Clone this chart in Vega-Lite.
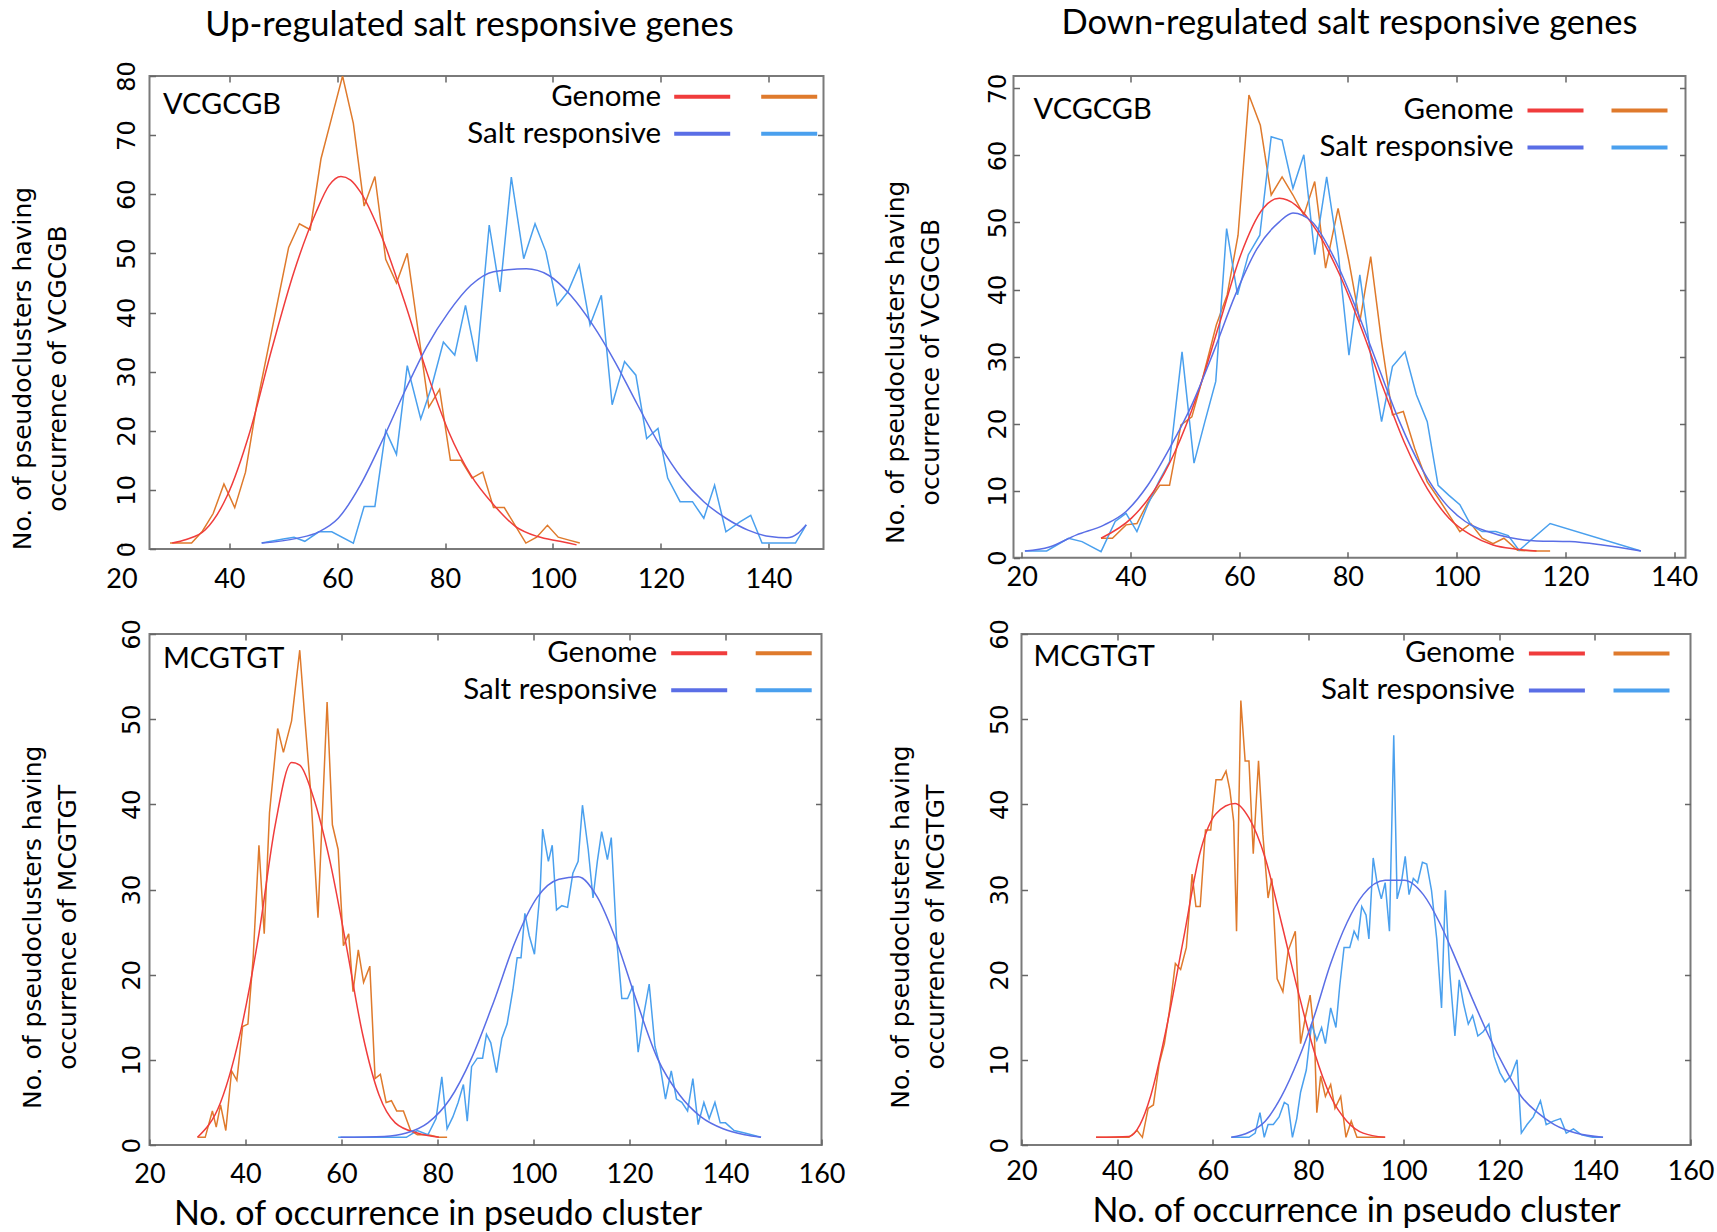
{
"$schema": "https://vega.github.io/schema/vega-lite/v6.json",
"background": "white",
"padding": {"left": 8.5, "top": 5, "right": 5, "bottom": 2},
"config": {
  "font": "Lato",
  "view": {"stroke": "#7a7a7a", "strokeWidth": 2},
  "axis": {"domain": false, "grid": false, "ticks": true, "tickSize": -6, "tickColor": "#666666", "tickWidth": 1.5, "labelColor": "black", "titleColor": "black", "titleFontWeight": "normal", "labelFlush": false, "labelOverlap": false},
  "axisX": {"labelFont": "Lato", "labelFontSize": 27, "titleFont": "Lato", "titleFontSize": 34},
  "axisY": {"labelFont": "DejaVu Sans", "labelFontSize": 24, "labelAngle": 270, "labelAlign": "center", "labelBaseline": "alphabetic", "titleFont": "DejaVu Sans", "titleFontSize": 25, "titleLineHeight": 35, "titleBaseline": "alphabetic", "titleAngle": 270},
  "legend": {"orient": "none", "title": null, "direction": "vertical", "symbolType": "M-2,0H2", "symbolSize": 784, "symbolStrokeWidth": 4, "labelFont": "Lato", "labelFontSize": 29.5, "labelColor": "black", "labelLimit": 400, "rowPadding": 6, "padding": 0},
  "title": {"font": "Lato", "fontSize": 34.5, "fontWeight": "normal", "color": "black", "anchor": "middle"}
},
"datasets": {
"up_vcgcgb": [
{"kind":"label","motif":"VCGCGB"},
{"series":"Genome","kind":"raw","x":29,"y":1},{"series":"Genome","kind":"raw","x":31,"y":1},{"series":"Genome","kind":"raw","x":33,"y":1},{"series":"Genome","kind":"raw","x":35,"y":3},{"series":"Genome","kind":"raw","x":37,"y":6},{"series":"Genome","kind":"raw","x":39,"y":11},{"series":"Genome","kind":"raw","x":41,"y":7},{"series":"Genome","kind":"raw","x":43,"y":13},{"series":"Genome","kind":"raw","x":45,"y":24},{"series":"Genome","kind":"raw","x":47,"y":33},{"series":"Genome","kind":"raw","x":49,"y":42},{"series":"Genome","kind":"raw","x":51,"y":51},{"series":"Genome","kind":"raw","x":53,"y":55},{"series":"Genome","kind":"raw","x":55,"y":54},{"series":"Genome","kind":"raw","x":57,"y":66},{"series":"Genome","kind":"raw","x":59,"y":73},{"series":"Genome","kind":"raw","x":61,"y":80},{"series":"Genome","kind":"raw","x":63,"y":72},{"series":"Genome","kind":"raw","x":65,"y":58},{"series":"Genome","kind":"raw","x":67,"y":63},{"series":"Genome","kind":"raw","x":69,"y":49},{"series":"Genome","kind":"raw","x":71,"y":45},{"series":"Genome","kind":"raw","x":73,"y":50},{"series":"Genome","kind":"raw","x":75,"y":37},{"series":"Genome","kind":"raw","x":77,"y":24},{"series":"Genome","kind":"raw","x":79,"y":27},{"series":"Genome","kind":"raw","x":81,"y":15},{"series":"Genome","kind":"raw","x":83,"y":15},{"series":"Genome","kind":"raw","x":85,"y":12},{"series":"Genome","kind":"raw","x":87,"y":13},{"series":"Genome","kind":"raw","x":89,"y":7},{"series":"Genome","kind":"raw","x":91,"y":7},{"series":"Genome","kind":"raw","x":93,"y":4},{"series":"Genome","kind":"raw","x":95,"y":1},{"series":"Genome","kind":"raw","x":97,"y":2},{"series":"Genome","kind":"raw","x":99,"y":4},{"series":"Genome","kind":"raw","x":101,"y":2},{"series":"Genome","kind":"raw","x":103,"y":1.5},{"series":"Genome","kind":"raw","x":105,"y":1},
{"series":"Genome","kind":"fit","x":29.4,"y":1},{"series":"Genome","kind":"fit","x":32,"y":1.6},{"series":"Genome","kind":"fit","x":35.5,"y":3.2},{"series":"Genome","kind":"fit","x":39.6,"y":9},{"series":"Genome","kind":"fit","x":43.8,"y":19.8},{"series":"Genome","kind":"fit","x":47.9,"y":33.9},{"series":"Genome","kind":"fit","x":52,"y":46.9},{"series":"Genome","kind":"fit","x":56.1,"y":57},{"series":"Genome","kind":"fit","x":58.5,"y":61.5},{"series":"Genome","kind":"fit","x":60.7,"y":63},{"series":"Genome","kind":"fit","x":62.5,"y":62.4},{"series":"Genome","kind":"fit","x":64.3,"y":60.4},{"series":"Genome","kind":"fit","x":68.4,"y":52.5},{"series":"Genome","kind":"fit","x":72.5,"y":41.8},{"series":"Genome","kind":"fit","x":76.6,"y":30},{"series":"Genome","kind":"fit","x":80.7,"y":19.8},{"series":"Genome","kind":"fit","x":84.8,"y":12.5},{"series":"Genome","kind":"fit","x":89,"y":7.5},{"series":"Genome","kind":"fit","x":93.1,"y":3.8},{"series":"Genome","kind":"fit","x":97.2,"y":2.1},{"series":"Genome","kind":"fit","x":101.3,"y":1.3},{"series":"Genome","kind":"fit","x":104.4,"y":0.7},
{"series":"Salt responsive","kind":"raw","x":46,"y":1},{"series":"Salt responsive","kind":"raw","x":50,"y":1.7},{"series":"Salt responsive","kind":"raw","x":52,"y":2},{"series":"Salt responsive","kind":"raw","x":54,"y":1.3},{"series":"Salt responsive","kind":"raw","x":56.6,"y":2.9},{"series":"Salt responsive","kind":"raw","x":59,"y":2.9},{"series":"Salt responsive","kind":"raw","x":63,"y":1},{"series":"Salt responsive","kind":"raw","x":65,"y":7.2},{"series":"Salt responsive","kind":"raw","x":67,"y":7.2},{"series":"Salt responsive","kind":"raw","x":69,"y":20},{"series":"Salt responsive","kind":"raw","x":71,"y":16},{"series":"Salt responsive","kind":"raw","x":73,"y":31},{"series":"Salt responsive","kind":"raw","x":75.5,"y":22},{"series":"Salt responsive","kind":"raw","x":77.5,"y":27.4},{"series":"Salt responsive","kind":"raw","x":79.7,"y":35},{"series":"Salt responsive","kind":"raw","x":81.8,"y":32.8},{"series":"Salt responsive","kind":"raw","x":83.8,"y":41.2},{"series":"Salt responsive","kind":"raw","x":85.9,"y":31.7},{"series":"Salt responsive","kind":"raw","x":88.2,"y":54.8},{"series":"Salt responsive","kind":"raw","x":90.2,"y":43.5},{"series":"Salt responsive","kind":"raw","x":92.3,"y":62.9},{"series":"Salt responsive","kind":"raw","x":94.6,"y":49.1},{"series":"Salt responsive","kind":"raw","x":96.7,"y":55},{"series":"Salt responsive","kind":"raw","x":98.7,"y":50.3},{"series":"Salt responsive","kind":"raw","x":100.8,"y":41.2},{"series":"Salt responsive","kind":"raw","x":102.8,"y":43.5},{"series":"Salt responsive","kind":"raw","x":104.9,"y":48},{"series":"Salt responsive","kind":"raw","x":106.9,"y":37.9},{"series":"Salt responsive","kind":"raw","x":109,"y":42.9},{"series":"Salt responsive","kind":"raw","x":111,"y":24.4},{"series":"Salt responsive","kind":"raw","x":113.3,"y":31.7},{"series":"Salt responsive","kind":"raw","x":115.4,"y":29.4},{"series":"Salt responsive","kind":"raw","x":117.4,"y":18.7},{"series":"Salt responsive","kind":"raw","x":119.5,"y":20.4},{"series":"Salt responsive","kind":"raw","x":121.3,"y":12},{"series":"Salt responsive","kind":"raw","x":123.6,"y":8},{"series":"Salt responsive","kind":"raw","x":125.9,"y":8},{"series":"Salt responsive","kind":"raw","x":128,"y":5.2},{"series":"Salt responsive","kind":"raw","x":130,"y":10.8},{"series":"Salt responsive","kind":"raw","x":132.1,"y":2.9},{"series":"Salt responsive","kind":"raw","x":134.7,"y":4.6},{"series":"Salt responsive","kind":"raw","x":136.7,"y":5.7},{"series":"Salt responsive","kind":"raw","x":138.8,"y":1},{"series":"Salt responsive","kind":"raw","x":145,"y":1},{"series":"Salt responsive","kind":"raw","x":147,"y":4.1},
{"series":"Salt responsive","kind":"fit","x":46,"y":1},{"series":"Salt responsive","kind":"fit","x":52.5,"y":1.8},{"series":"Salt responsive","kind":"fit","x":56.6,"y":2.9},{"series":"Salt responsive","kind":"fit","x":60.2,"y":5.2},{"series":"Salt responsive","kind":"fit","x":64.3,"y":10.8},{"series":"Salt responsive","kind":"fit","x":68.4,"y":18.4},{"series":"Salt responsive","kind":"fit","x":72.5,"y":26.6},{"series":"Salt responsive","kind":"fit","x":76.6,"y":34.2},{"series":"Salt responsive","kind":"fit","x":80.7,"y":40.1},{"series":"Salt responsive","kind":"fit","x":84.8,"y":44.6},{"series":"Salt responsive","kind":"fit","x":89,"y":46.9},{"series":"Salt responsive","kind":"fit","x":95.1,"y":47.4},{"series":"Salt responsive","kind":"fit","x":99.2,"y":46.3},{"series":"Salt responsive","kind":"fit","x":103.3,"y":42.9},{"series":"Salt responsive","kind":"fit","x":107.4,"y":37.9},{"series":"Salt responsive","kind":"fit","x":111.5,"y":31.7},{"series":"Salt responsive","kind":"fit","x":115.7,"y":24.4},{"series":"Salt responsive","kind":"fit","x":119.8,"y":17.6},{"series":"Salt responsive","kind":"fit","x":123.9,"y":12},{"series":"Salt responsive","kind":"fit","x":128,"y":8},{"series":"Salt responsive","kind":"fit","x":132.1,"y":5.2},{"series":"Salt responsive","kind":"fit","x":136.2,"y":3.2},{"series":"Salt responsive","kind":"fit","x":140.3,"y":2.1},{"series":"Salt responsive","kind":"fit","x":143.4,"y":1.9},{"series":"Salt responsive","kind":"fit","x":145.5,"y":2.7},{"series":"Salt responsive","kind":"fit","x":147,"y":4.1}
],
"down_vcgcgb": [
{"kind":"label","motif":"VCGCGB"},
{"series":"Genome","kind":"raw","x":34.6,"y":2.9},{"series":"Genome","kind":"raw","x":36.7,"y":2.9},{"series":"Genome","kind":"raw","x":39.2,"y":4.9},{"series":"Genome","kind":"raw","x":41.2,"y":5.1},{"series":"Genome","kind":"raw","x":43.2,"y":8.2},{"series":"Genome","kind":"raw","x":45.4,"y":10.8},{"series":"Genome","kind":"raw","x":47.2,"y":10.8},{"series":"Genome","kind":"raw","x":49.3,"y":19.8},{"series":"Genome","kind":"raw","x":51.3,"y":21},{"series":"Genome","kind":"raw","x":53.3,"y":26.8},{"series":"Genome","kind":"raw","x":55.8,"y":34.7},{"series":"Genome","kind":"raw","x":57.8,"y":39.2},{"series":"Genome","kind":"raw","x":59.8,"y":48.1},{"series":"Genome","kind":"raw","x":61.8,"y":69},{"series":"Genome","kind":"raw","x":63.9,"y":64.5},{"series":"Genome","kind":"raw","x":65.9,"y":54.1},{"series":"Genome","kind":"raw","x":67.9,"y":56.8},{"series":"Genome","kind":"raw","x":69.9,"y":54.1},{"series":"Genome","kind":"raw","x":71.9,"y":51.1},{"series":"Genome","kind":"raw","x":73.9,"y":56.1},{"series":"Genome","kind":"raw","x":75.9,"y":43.2},{"series":"Genome","kind":"raw","x":78.2,"y":52.1},{"series":"Genome","kind":"raw","x":80.2,"y":44.2},{"series":"Genome","kind":"raw","x":82.2,"y":35.2},{"series":"Genome","kind":"raw","x":84.2,"y":44.9},{"series":"Genome","kind":"raw","x":86.2,"y":32.2},{"series":"Genome","kind":"raw","x":88.2,"y":21.3},{"series":"Genome","kind":"raw","x":90.2,"y":21.8},{"series":"Genome","kind":"raw","x":92.3,"y":16.3},{"series":"Genome","kind":"raw","x":94.6,"y":11.3},{"series":"Genome","kind":"raw","x":96.6,"y":8.9},{"series":"Genome","kind":"raw","x":98.6,"y":6.4},{"series":"Genome","kind":"raw","x":100.6,"y":3.9},{"series":"Genome","kind":"raw","x":102.6,"y":5.1},{"series":"Genome","kind":"raw","x":104.7,"y":2.9},{"series":"Genome","kind":"raw","x":106.7,"y":2.1},{"series":"Genome","kind":"raw","x":108.7,"y":2.9},{"series":"Genome","kind":"raw","x":111.2,"y":1.1},{"series":"Genome","kind":"raw","x":114.7,"y":1},{"series":"Genome","kind":"raw","x":117.2,"y":1},
{"series":"Genome","kind":"fit","x":34.6,"y":2.9},{"series":"Genome","kind":"fit","x":40.2,"y":5.9},{"series":"Genome","kind":"fit","x":44.2,"y":9.8},{"series":"Genome","kind":"fit","x":48.2,"y":15.8},{"series":"Genome","kind":"fit","x":52.3,"y":24.3},{"series":"Genome","kind":"fit","x":56.3,"y":34.7},{"series":"Genome","kind":"fit","x":60.3,"y":45.2},{"series":"Genome","kind":"fit","x":64.4,"y":52.1},{"series":"Genome","kind":"fit","x":67.4,"y":53.6},{"series":"Genome","kind":"fit","x":70.4,"y":52.6},{"series":"Genome","kind":"fit","x":74.4,"y":48.6},{"series":"Genome","kind":"fit","x":78.5,"y":42.2},{"series":"Genome","kind":"fit","x":82.5,"y":34.2},{"series":"Genome","kind":"fit","x":86.5,"y":25.3},{"series":"Genome","kind":"fit","x":90.6,"y":16.8},{"series":"Genome","kind":"fit","x":94.6,"y":10.3},{"series":"Genome","kind":"fit","x":98.6,"y":5.9},{"series":"Genome","kind":"fit","x":102.6,"y":3.4},{"series":"Genome","kind":"fit","x":106.7,"y":1.9},{"series":"Genome","kind":"fit","x":110.7,"y":1.3},{"series":"Genome","kind":"fit","x":114.7,"y":1},
{"series":"Salt responsive","kind":"raw","x":20.6,"y":1},{"series":"Salt responsive","kind":"raw","x":24.6,"y":1},{"series":"Salt responsive","kind":"raw","x":28.6,"y":2.9},{"series":"Salt responsive","kind":"raw","x":31.1,"y":2.4},{"series":"Salt responsive","kind":"raw","x":34.6,"y":0.9},{"series":"Salt responsive","kind":"raw","x":37.2,"y":5.4},{"series":"Salt responsive","kind":"raw","x":39.2,"y":6.6},{"series":"Salt responsive","kind":"raw","x":41.2,"y":3.9},{"series":"Salt responsive","kind":"raw","x":43.2,"y":7.9},{"series":"Salt responsive","kind":"raw","x":45.2,"y":11.3},{"series":"Salt responsive","kind":"raw","x":47.2,"y":14.3},{"series":"Salt responsive","kind":"raw","x":49.5,"y":30.7},{"series":"Salt responsive","kind":"raw","x":51.7,"y":14.1},{"series":"Salt responsive","kind":"raw","x":53.7,"y":20.3},{"series":"Salt responsive","kind":"raw","x":55.7,"y":26.3},{"series":"Salt responsive","kind":"raw","x":57.7,"y":49.1},{"series":"Salt responsive","kind":"raw","x":59.7,"y":39.2},{"series":"Salt responsive","kind":"raw","x":61.7,"y":45.2},{"series":"Salt responsive","kind":"raw","x":63.8,"y":48.1},{"series":"Salt responsive","kind":"raw","x":65.9,"y":62.8},{"series":"Salt responsive","kind":"raw","x":67.9,"y":62.3},{"series":"Salt responsive","kind":"raw","x":69.9,"y":55.1},{"series":"Salt responsive","kind":"raw","x":71.9,"y":60.1},{"series":"Salt responsive","kind":"raw","x":73.9,"y":45.2},{"series":"Salt responsive","kind":"raw","x":76.1,"y":56.8},{"series":"Salt responsive","kind":"raw","x":78.2,"y":45.6},{"series":"Salt responsive","kind":"raw","x":80.2,"y":30.2},{"series":"Salt responsive","kind":"raw","x":82.2,"y":42.2},{"series":"Salt responsive","kind":"raw","x":84.2,"y":30.2},{"series":"Salt responsive","kind":"raw","x":86.2,"y":20.3},{"series":"Salt responsive","kind":"raw","x":88.2,"y":28.5},{"series":"Salt responsive","kind":"raw","x":90.5,"y":30.7},{"series":"Salt responsive","kind":"raw","x":92.6,"y":24.3},{"series":"Salt responsive","kind":"raw","x":94.6,"y":20.3},{"series":"Salt responsive","kind":"raw","x":96.6,"y":10.8},{"series":"Salt responsive","kind":"raw","x":98.6,"y":9.3},{"series":"Salt responsive","kind":"raw","x":100.6,"y":7.9},{"series":"Salt responsive","kind":"raw","x":102.6,"y":4.9},{"series":"Salt responsive","kind":"raw","x":104.7,"y":3.9},{"series":"Salt responsive","kind":"raw","x":107.2,"y":3.9},{"series":"Salt responsive","kind":"raw","x":109.5,"y":3.3},{"series":"Salt responsive","kind":"raw","x":111.5,"y":1.1},{"series":"Salt responsive","kind":"raw","x":117.2,"y":5.1},{"series":"Salt responsive","kind":"raw","x":133.9,"y":1},
{"series":"Salt responsive","kind":"fit","x":20.6,"y":1},{"series":"Salt responsive","kind":"fit","x":25.1,"y":1.6},{"series":"Salt responsive","kind":"fit","x":30.1,"y":3.4},{"series":"Salt responsive","kind":"fit","x":35.2,"y":4.9},{"series":"Salt responsive","kind":"fit","x":39.2,"y":6.9},{"series":"Salt responsive","kind":"fit","x":43.2,"y":10.8},{"series":"Salt responsive","kind":"fit","x":47.2,"y":16.3},{"series":"Salt responsive","kind":"fit","x":51.3,"y":22.8},{"series":"Salt responsive","kind":"fit","x":55.3,"y":30.7},{"series":"Salt responsive","kind":"fit","x":59.3,"y":39.2},{"series":"Salt responsive","kind":"fit","x":63.3,"y":46.1},{"series":"Salt responsive","kind":"fit","x":67.4,"y":50.1},{"series":"Salt responsive","kind":"fit","x":69.9,"y":51.4},{"series":"Salt responsive","kind":"fit","x":73.4,"y":50.1},{"series":"Salt responsive","kind":"fit","x":77.5,"y":44.7},{"series":"Salt responsive","kind":"fit","x":81.5,"y":37.2},{"series":"Salt responsive","kind":"fit","x":85.5,"y":28.7},{"series":"Salt responsive","kind":"fit","x":89.5,"y":20.3},{"series":"Salt responsive","kind":"fit","x":93.6,"y":13.3},{"series":"Salt responsive","kind":"fit","x":97.6,"y":8.4},{"series":"Salt responsive","kind":"fit","x":101.6,"y":5.4},{"series":"Salt responsive","kind":"fit","x":105.7,"y":3.9},{"series":"Salt responsive","kind":"fit","x":109.7,"y":3},{"series":"Salt responsive","kind":"fit","x":114.7,"y":2.5},{"series":"Salt responsive","kind":"fit","x":120.8,"y":2.4},{"series":"Salt responsive","kind":"fit","x":126.8,"y":1.9},{"series":"Salt responsive","kind":"fit","x":133.9,"y":1}
],
"up_mcgtgt": [
{"kind":"label","motif":"MCGTGT"},
{"series":"Genome","kind":"raw","x":30,"y":0.9},{"series":"Genome","kind":"raw","x":31.6,"y":0.9},{"series":"Genome","kind":"raw","x":33.1,"y":4},{"series":"Genome","kind":"raw","x":33.9,"y":2.1},{"series":"Genome","kind":"raw","x":34.8,"y":4.7},{"series":"Genome","kind":"raw","x":35.9,"y":1.7},{"series":"Genome","kind":"raw","x":37.1,"y":8.7},{"series":"Genome","kind":"raw","x":38.2,"y":7.6},{"series":"Genome","kind":"raw","x":39.4,"y":13.9},{"series":"Genome","kind":"raw","x":40.5,"y":14.2},{"series":"Genome","kind":"raw","x":41.6,"y":22},{"series":"Genome","kind":"raw","x":42.8,"y":35.2},{"series":"Genome","kind":"raw","x":43.9,"y":24.8},{"series":"Genome","kind":"raw","x":45,"y":39},{"series":"Genome","kind":"raw","x":46.7,"y":48.9},{"series":"Genome","kind":"raw","x":47.9,"y":46.1},{"series":"Genome","kind":"raw","x":49.6,"y":49.8},{"series":"Genome","kind":"raw","x":51.3,"y":58.1},{"series":"Genome","kind":"raw","x":52.4,"y":49.8},{"series":"Genome","kind":"raw","x":53.6,"y":41.3},{"series":"Genome","kind":"raw","x":55.1,"y":26.7},{"series":"Genome","kind":"raw","x":57,"y":52},{"series":"Genome","kind":"raw","x":58.1,"y":37.6},{"series":"Genome","kind":"raw","x":59.3,"y":34.7},{"series":"Genome","kind":"raw","x":60.4,"y":23.4},{"series":"Genome","kind":"raw","x":61.5,"y":24.8},{"series":"Genome","kind":"raw","x":62.4,"y":18},{"series":"Genome","kind":"raw","x":63.5,"y":22.9},{"series":"Genome","kind":"raw","x":64.6,"y":19.1},{"series":"Genome","kind":"raw","x":65.9,"y":21},{"series":"Genome","kind":"raw","x":67,"y":7.8},{"series":"Genome","kind":"raw","x":68.1,"y":8.3},{"series":"Genome","kind":"raw","x":69.3,"y":5},{"series":"Genome","kind":"raw","x":70.4,"y":5.2},{"series":"Genome","kind":"raw","x":71.5,"y":4},{"series":"Genome","kind":"raw","x":72.9,"y":4},{"series":"Genome","kind":"raw","x":74.4,"y":1.7},{"series":"Genome","kind":"raw","x":75.8,"y":1.2},{"series":"Genome","kind":"raw","x":78,"y":1.2},{"series":"Genome","kind":"raw","x":80.3,"y":0.9},{"series":"Genome","kind":"raw","x":82,"y":0.9},
{"series":"Genome","kind":"fit","x":30,"y":0.9},{"series":"Genome","kind":"fit","x":34.8,"y":5},{"series":"Genome","kind":"fit","x":39.4,"y":14.4},{"series":"Genome","kind":"fit","x":42.8,"y":24.8},{"series":"Genome","kind":"fit","x":46.2,"y":37.6},{"series":"Genome","kind":"fit","x":49.6,"y":44.9},{"series":"Genome","kind":"fit","x":51.3,"y":44.6},{"series":"Genome","kind":"fit","x":54.1,"y":40.9},{"series":"Genome","kind":"fit","x":57.6,"y":33.3},{"series":"Genome","kind":"fit","x":61,"y":23.4},{"series":"Genome","kind":"fit","x":64.4,"y":13},{"series":"Genome","kind":"fit","x":67.8,"y":5.9},{"series":"Genome","kind":"fit","x":71.2,"y":2.6},{"series":"Genome","kind":"fit","x":75.8,"y":1.4},{"series":"Genome","kind":"fit","x":80.3,"y":0.9},
{"series":"Salt responsive","kind":"raw","x":59.3,"y":0.9},{"series":"Salt responsive","kind":"raw","x":73.5,"y":0.9},{"series":"Salt responsive","kind":"raw","x":75.8,"y":1.7},{"series":"Salt responsive","kind":"raw","x":78,"y":1.2},{"series":"Salt responsive","kind":"raw","x":79.7,"y":3.1},{"series":"Salt responsive","kind":"raw","x":80.9,"y":8},{"series":"Salt responsive","kind":"raw","x":82,"y":1.9},{"series":"Salt responsive","kind":"raw","x":83.2,"y":3.3},{"series":"Salt responsive","kind":"raw","x":84.3,"y":5},{"series":"Salt responsive","kind":"raw","x":85.4,"y":7.1},{"series":"Salt responsive","kind":"raw","x":86.2,"y":2.8},{"series":"Salt responsive","kind":"raw","x":87.1,"y":9.2},{"series":"Salt responsive","kind":"raw","x":88.3,"y":10.2},{"series":"Salt responsive","kind":"raw","x":89.4,"y":10.2},{"series":"Salt responsive","kind":"raw","x":90.2,"y":13},{"series":"Salt responsive","kind":"raw","x":91.1,"y":12},{"series":"Salt responsive","kind":"raw","x":92.3,"y":8.5},{"series":"Salt responsive","kind":"raw","x":93.4,"y":12.5},{"series":"Salt responsive","kind":"raw","x":94.5,"y":14.2},{"series":"Salt responsive","kind":"raw","x":95.7,"y":18.2},{"series":"Salt responsive","kind":"raw","x":96.6,"y":22},{"series":"Salt responsive","kind":"raw","x":97.4,"y":22},{"series":"Salt responsive","kind":"raw","x":98.2,"y":27.2},{"series":"Salt responsive","kind":"raw","x":99.1,"y":24.6},{"series":"Salt responsive","kind":"raw","x":100.2,"y":22.4},{"series":"Salt responsive","kind":"raw","x":101.4,"y":30},{"series":"Salt responsive","kind":"raw","x":101.9,"y":37.1},{"series":"Salt responsive","kind":"raw","x":103.1,"y":33.3},{"series":"Salt responsive","kind":"raw","x":103.9,"y":35.2},{"series":"Salt responsive","kind":"raw","x":104.8,"y":27.6},{"series":"Salt responsive","kind":"raw","x":105.9,"y":28.1},{"series":"Salt responsive","kind":"raw","x":107.1,"y":27.9},{"series":"Salt responsive","kind":"raw","x":108.2,"y":31.9},{"series":"Salt responsive","kind":"raw","x":109.3,"y":33.3},{"series":"Salt responsive","kind":"raw","x":110.2,"y":39.9},{"series":"Salt responsive","kind":"raw","x":111.4,"y":34.7},{"series":"Salt responsive","kind":"raw","x":112.4,"y":29},{"series":"Salt responsive","kind":"raw","x":113.3,"y":33.3},{"series":"Salt responsive","kind":"raw","x":114.2,"y":36.8},{"series":"Salt responsive","kind":"raw","x":115.4,"y":33.5},{"series":"Salt responsive","kind":"raw","x":116.2,"y":36.1},{"series":"Salt responsive","kind":"raw","x":117.3,"y":24.3},{"series":"Salt responsive","kind":"raw","x":118.4,"y":17.2},{"series":"Salt responsive","kind":"raw","x":119.6,"y":17.2},{"series":"Salt responsive","kind":"raw","x":120.7,"y":18.7},{"series":"Salt responsive","kind":"raw","x":121.8,"y":10.9},{"series":"Salt responsive","kind":"raw","x":123,"y":15.4},{"series":"Salt responsive","kind":"raw","x":124.1,"y":18.9},{"series":"Salt responsive","kind":"raw","x":125.3,"y":11.6},{"series":"Salt responsive","kind":"raw","x":126.4,"y":9.2},{"series":"Salt responsive","kind":"raw","x":127.5,"y":5.4},{"series":"Salt responsive","kind":"raw","x":128.7,"y":8.7},{"series":"Salt responsive","kind":"raw","x":129.8,"y":5.4},{"series":"Salt responsive","kind":"raw","x":130.9,"y":5},{"series":"Salt responsive","kind":"raw","x":132.1,"y":4},{"series":"Salt responsive","kind":"raw","x":133.2,"y":7.8},{"series":"Salt responsive","kind":"raw","x":134.3,"y":2.4},{"series":"Salt responsive","kind":"raw","x":135.5,"y":5},{"series":"Salt responsive","kind":"raw","x":136.6,"y":3.1},{"series":"Salt responsive","kind":"raw","x":137.8,"y":5},{"series":"Salt responsive","kind":"raw","x":138.9,"y":2.6},{"series":"Salt responsive","kind":"raw","x":140,"y":2.6},{"series":"Salt responsive","kind":"raw","x":141.8,"y":1.7},{"series":"Salt responsive","kind":"raw","x":144,"y":1.4},{"series":"Salt responsive","kind":"raw","x":147.4,"y":0.9},
{"series":"Salt responsive","kind":"fit","x":59.8,"y":0.9},{"series":"Salt responsive","kind":"fit","x":68.9,"y":1},{"series":"Salt responsive","kind":"fit","x":73.5,"y":1.4},{"series":"Salt responsive","kind":"fit","x":78,"y":2.6},{"series":"Salt responsive","kind":"fit","x":82.6,"y":5.4},{"series":"Salt responsive","kind":"fit","x":87.1,"y":10.2},{"series":"Salt responsive","kind":"fit","x":91.7,"y":16.8},{"series":"Salt responsive","kind":"fit","x":96.2,"y":23.9},{"series":"Salt responsive","kind":"fit","x":100.8,"y":29.1},{"series":"Salt responsive","kind":"fit","x":105.3,"y":31.2},{"series":"Salt responsive","kind":"fit","x":109.3,"y":31.5},{"series":"Salt responsive","kind":"fit","x":113.3,"y":29.1},{"series":"Salt responsive","kind":"fit","x":117.3,"y":23.9},{"series":"Salt responsive","kind":"fit","x":121.3,"y":17.2},{"series":"Salt responsive","kind":"fit","x":125.8,"y":10.2},{"series":"Salt responsive","kind":"fit","x":130.4,"y":5.9},{"series":"Salt responsive","kind":"fit","x":134.9,"y":3.3},{"series":"Salt responsive","kind":"fit","x":139.5,"y":1.9},{"series":"Salt responsive","kind":"fit","x":144,"y":1.2},{"series":"Salt responsive","kind":"fit","x":147.4,"y":0.9}
],
"down_mcgtgt": [
{"kind":"label","motif":"MCGTGT"},
{"series":"Genome","kind":"raw","x":35.6,"y":0.9},{"series":"Genome","kind":"raw","x":42.5,"y":0.9},{"series":"Genome","kind":"raw","x":44.2,"y":1.7},{"series":"Genome","kind":"raw","x":45.3,"y":0.9},{"series":"Genome","kind":"raw","x":46.5,"y":4.3},{"series":"Genome","kind":"raw","x":47.6,"y":4.7},{"series":"Genome","kind":"raw","x":48.8,"y":9.5},{"series":"Genome","kind":"raw","x":49.9,"y":11.9},{"series":"Genome","kind":"raw","x":51,"y":15.9},{"series":"Genome","kind":"raw","x":52.2,"y":21.3},{"series":"Genome","kind":"raw","x":53.3,"y":20.6},{"series":"Genome","kind":"raw","x":54.5,"y":23.2},{"series":"Genome","kind":"raw","x":55.7,"y":31.8},{"series":"Genome","kind":"raw","x":56.5,"y":28},{"series":"Genome","kind":"raw","x":57.4,"y":28},{"series":"Genome","kind":"raw","x":58.5,"y":37},{"series":"Genome","kind":"raw","x":59.6,"y":37},{"series":"Genome","kind":"raw","x":60.7,"y":42.9},{"series":"Genome","kind":"raw","x":61.9,"y":42.9},{"series":"Genome","kind":"raw","x":62.8,"y":43.9},{"series":"Genome","kind":"raw","x":63.6,"y":41.7},{"series":"Genome","kind":"raw","x":64.4,"y":38},{"series":"Genome","kind":"raw","x":65,"y":25.1},{"series":"Genome","kind":"raw","x":65.9,"y":52.2},{"series":"Genome","kind":"raw","x":66.8,"y":45.1},{"series":"Genome","kind":"raw","x":67.6,"y":45.1},{"series":"Genome","kind":"raw","x":68.5,"y":34.2},{"series":"Genome","kind":"raw","x":69.6,"y":45.1},{"series":"Genome","kind":"raw","x":70.5,"y":36.5},{"series":"Genome","kind":"raw","x":71.6,"y":29},{"series":"Genome","kind":"raw","x":72.4,"y":31.3},{"series":"Genome","kind":"raw","x":73.5,"y":19.5},{"series":"Genome","kind":"raw","x":74.7,"y":18},{"series":"Genome","kind":"raw","x":75.8,"y":22.8},{"series":"Genome","kind":"raw","x":77.3,"y":25.1},{"series":"Genome","kind":"raw","x":78.4,"y":11.9},{"series":"Genome","kind":"raw","x":79.4,"y":15},{"series":"Genome","kind":"raw","x":80.4,"y":17.6},{"series":"Genome","kind":"raw","x":81.3,"y":12.8},{"series":"Genome","kind":"raw","x":81.8,"y":3.8},{"series":"Genome","kind":"raw","x":82.6,"y":8.1},{"series":"Genome","kind":"raw","x":83.6,"y":5.7},{"series":"Genome","kind":"raw","x":84.7,"y":7.1},{"series":"Genome","kind":"raw","x":85.6,"y":4.3},{"series":"Genome","kind":"raw","x":86.8,"y":5.7},{"series":"Genome","kind":"raw","x":87.9,"y":0.9},{"series":"Genome","kind":"raw","x":89,"y":2.8},{"series":"Genome","kind":"raw","x":90.2,"y":0.9},{"series":"Genome","kind":"raw","x":96.1,"y":0.9},
{"series":"Genome","kind":"fit","x":35.6,"y":0.9},{"series":"Genome","kind":"fit","x":42.5,"y":1},{"series":"Genome","kind":"fit","x":44.8,"y":2.4},{"series":"Genome","kind":"fit","x":47,"y":5.7},{"series":"Genome","kind":"fit","x":50.5,"y":14.2},{"series":"Genome","kind":"fit","x":53.9,"y":24.2},{"series":"Genome","kind":"fit","x":57.3,"y":34.2},{"series":"Genome","kind":"fit","x":60.7,"y":38.9},{"series":"Genome","kind":"fit","x":64.7,"y":40.1},{"series":"Genome","kind":"fit","x":67.6,"y":38.4},{"series":"Genome","kind":"fit","x":71,"y":33.7},{"series":"Genome","kind":"fit","x":74.4,"y":26.1},{"series":"Genome","kind":"fit","x":77.9,"y":18},{"series":"Genome","kind":"fit","x":81.3,"y":10.9},{"series":"Genome","kind":"fit","x":84.7,"y":5.7},{"series":"Genome","kind":"fit","x":88.1,"y":2.8},{"series":"Genome","kind":"fit","x":91.5,"y":1.4},{"series":"Genome","kind":"fit","x":96.1,"y":0.9},
{"series":"Salt responsive","kind":"raw","x":63.9,"y":0.9},{"series":"Salt responsive","kind":"raw","x":67.6,"y":0.9},{"series":"Salt responsive","kind":"raw","x":68.9,"y":1.4},{"series":"Salt responsive","kind":"raw","x":69.9,"y":3.8},{"series":"Salt responsive","kind":"raw","x":70.8,"y":0.9},{"series":"Salt responsive","kind":"raw","x":71.6,"y":2.4},{"series":"Salt responsive","kind":"raw","x":72.7,"y":2.4},{"series":"Salt responsive","kind":"raw","x":73.9,"y":3.3},{"series":"Salt responsive","kind":"raw","x":75,"y":5},{"series":"Salt responsive","kind":"raw","x":75.8,"y":4.7},{"series":"Salt responsive","kind":"raw","x":76.7,"y":0.9},{"series":"Salt responsive","kind":"raw","x":77.6,"y":3.1},{"series":"Salt responsive","kind":"raw","x":78.4,"y":6.2},{"series":"Salt responsive","kind":"raw","x":79.6,"y":8.8},{"series":"Salt responsive","kind":"raw","x":80.7,"y":14.2},{"series":"Salt responsive","kind":"raw","x":81.8,"y":12.3},{"series":"Salt responsive","kind":"raw","x":82.8,"y":13.8},{"series":"Salt responsive","kind":"raw","x":83.6,"y":11.9},{"series":"Salt responsive","kind":"raw","x":84.7,"y":16.1},{"series":"Salt responsive","kind":"raw","x":85.8,"y":13.8},{"series":"Salt responsive","kind":"raw","x":86.6,"y":18.7},{"series":"Salt responsive","kind":"raw","x":87.5,"y":23.2},{"series":"Salt responsive","kind":"raw","x":88.7,"y":23.2},{"series":"Salt responsive","kind":"raw","x":89.6,"y":25.1},{"series":"Salt responsive","kind":"raw","x":90.4,"y":24.2},{"series":"Salt responsive","kind":"raw","x":91.2,"y":28},{"series":"Salt responsive","kind":"raw","x":92.1,"y":27},{"series":"Salt responsive","kind":"raw","x":92.7,"y":24.2},{"series":"Salt responsive","kind":"raw","x":93.6,"y":33.7},{"series":"Salt responsive","kind":"raw","x":94.4,"y":30.8},{"series":"Salt responsive","kind":"raw","x":95.3,"y":28.9},{"series":"Salt responsive","kind":"raw","x":96.1,"y":30.8},{"series":"Salt responsive","kind":"raw","x":97,"y":25.1},{"series":"Salt responsive","kind":"raw","x":97.9,"y":48.1},{"series":"Salt responsive","kind":"raw","x":98.6,"y":28.9},{"series":"Salt responsive","kind":"raw","x":99.5,"y":30.8},{"series":"Salt responsive","kind":"raw","x":100.3,"y":33.9},{"series":"Salt responsive","kind":"raw","x":101.1,"y":29.4},{"series":"Salt responsive","kind":"raw","x":102,"y":31.3},{"series":"Salt responsive","kind":"raw","x":102.9,"y":30.8},{"series":"Salt responsive","kind":"raw","x":103.9,"y":33.2},{"series":"Salt responsive","kind":"raw","x":104.8,"y":33},{"series":"Salt responsive","kind":"raw","x":105.8,"y":29.9},{"series":"Salt responsive","kind":"raw","x":106.9,"y":24.2},{"series":"Salt responsive","kind":"raw","x":107.9,"y":16.1},{"series":"Salt responsive","kind":"raw","x":108.7,"y":29.9},{"series":"Salt responsive","kind":"raw","x":109.6,"y":20.4},{"series":"Salt responsive","kind":"raw","x":110.7,"y":12.8},{"series":"Salt responsive","kind":"raw","x":111.6,"y":19.4},{"series":"Salt responsive","kind":"raw","x":112.5,"y":16.6},{"series":"Salt responsive","kind":"raw","x":113.5,"y":14.2},{"series":"Salt responsive","kind":"raw","x":114.4,"y":15.2},{"series":"Salt responsive","kind":"raw","x":115.5,"y":12.8},{"series":"Salt responsive","kind":"raw","x":116.6,"y":13.3},{"series":"Salt responsive","kind":"raw","x":117.8,"y":14.2},{"series":"Salt responsive","kind":"raw","x":118.9,"y":10.4},{"series":"Salt responsive","kind":"raw","x":120.1,"y":8.5},{"series":"Salt responsive","kind":"raw","x":121.2,"y":7.4},{"series":"Salt responsive","kind":"raw","x":122.4,"y":8.1},{"series":"Salt responsive","kind":"raw","x":123.7,"y":10},{"series":"Salt responsive","kind":"raw","x":124.6,"y":1.4},{"series":"Salt responsive","kind":"raw","x":125.8,"y":2.4},{"series":"Salt responsive","kind":"raw","x":127.1,"y":3.3},{"series":"Salt responsive","kind":"raw","x":128.6,"y":5.2},{"series":"Salt responsive","kind":"raw","x":129.8,"y":2.4},{"series":"Salt responsive","kind":"raw","x":131.3,"y":2.8},{"series":"Salt responsive","kind":"raw","x":132.8,"y":3.1},{"series":"Salt responsive","kind":"raw","x":134,"y":1.4},{"series":"Salt responsive","kind":"raw","x":135.5,"y":1.9},{"series":"Salt responsive","kind":"raw","x":137.2,"y":1.2},{"series":"Salt responsive","kind":"raw","x":139.5,"y":0.9},{"series":"Salt responsive","kind":"raw","x":141.7,"y":0.9},
{"series":"Salt responsive","kind":"fit","x":63.9,"y":0.9},{"series":"Salt responsive","kind":"fit","x":67.6,"y":1.5},{"series":"Salt responsive","kind":"fit","x":71,"y":2.8},{"series":"Salt responsive","kind":"fit","x":74.4,"y":5.7},{"series":"Salt responsive","kind":"fit","x":77.9,"y":10},{"series":"Salt responsive","kind":"fit","x":81.3,"y":15.2},{"series":"Salt responsive","kind":"fit","x":84.7,"y":21.3},{"series":"Salt responsive","kind":"fit","x":88.1,"y":26.1},{"series":"Salt responsive","kind":"fit","x":91.5,"y":29.4},{"series":"Salt responsive","kind":"fit","x":96.1,"y":31.1},{"series":"Salt responsive","kind":"fit","x":100.1,"y":31.1},{"series":"Salt responsive","kind":"fit","x":104.1,"y":29.4},{"series":"Salt responsive","kind":"fit","x":107.5,"y":26.1},{"series":"Salt responsive","kind":"fit","x":110.9,"y":21.8},{"series":"Salt responsive","kind":"fit","x":114.4,"y":17.1},{"series":"Salt responsive","kind":"fit","x":117.8,"y":12.8},{"series":"Salt responsive","kind":"fit","x":121.2,"y":9},{"series":"Salt responsive","kind":"fit","x":124.6,"y":5.7},{"series":"Salt responsive","kind":"fit","x":128,"y":3.8},{"series":"Salt responsive","kind":"fit","x":131.5,"y":2.4},{"series":"Salt responsive","kind":"fit","x":136,"y":1.4},{"series":"Salt responsive","kind":"fit","x":141.7,"y":0.9}
]
},
"spacing": 24,
"resolve": {"scale": {"color": "independent"}, "legend": {"color": "independent"}},
"vconcat": [
{
"spacing": 29,
"resolve": {"scale": {"color": "independent"}, "legend": {"color": "independent"}},
"hconcat": [
{
  "width": 674, "height": 473,
  "title": {"text": "Up-regulated salt responsive genes", "offset": 17, "dx": -17},
  "data": {"name": "up_vcgcgb"},
  "layer": [
    {
      "encoding": {
        "x": {"field": "x", "type": "quantitative", "scale": {"domain": [20, 150.2], "rangeMin": -28, "nice": false, "zero": false},
          "axis": {"values": [20,40,60,80,100,120,140], "title": null, "labelPadding": 23}},
        "y": {"field": "y", "type": "quantitative", "scale": {"domain": [0, 80], "nice": false, "zero": false},
          "axis": {"values": [0,10,20,30,40,50,60,70,80], "title": ["No. of pseudoclusters having", "occurrence of VCGCGB"], "labelPadding": 21, "titlePadding": 50, "titleY": 292}}
      },
      "layer": [
        {"transform": [{"filter": "datum.kind === 'raw'"}], "mark": {"type": "line", "strokeWidth": 1.5, "clip": true},
         "encoding": {"color": {"field": "series", "type": "nominal", "scale": {"domain": ["Genome", "Salt responsive"], "range": ["#df7a2c", "#4aa0ee"]},
           "legend": {"legendX": 623.7, "legendY": 4.7, "labelExpr": "''"}}}},
        {"transform": [{"filter": "datum.kind === 'fit'"}], "mark": {"type": "line", "strokeWidth": 1.5, "interpolate": "monotone", "clip": true},
         "encoding": {"color": {"field": "series", "type": "nominal", "scale": {"domain": ["Genome", "Salt responsive"], "range": ["#f03c3c", "#5a6ee6"]},
           "legend": {"legendX": 536.7, "legendY": 4.7, "labelAlign": "right", "labelOffset": -57}}}}
      ],
      "resolve": {"scale": {"color": "independent"}, "legend": {"color": "independent"}}
    },
    {"transform": [{"filter": "datum.kind === 'label'"}], "mark": {"type": "text", "align": "left", "baseline": "alphabetic", "font": "Lato", "fontSize": 29, "fill": "black"},
     "encoding": {
       "x": {"datum": 27.7, "type": "quantitative", "axis": {"orient": "top", "values": [40,60,80,100,120,140], "labels": false, "title": null}},
       "y": {"datum": 73.6, "type": "quantitative", "axis": {"orient": "right", "values": [10,20,30,40,50,60,70], "labels": false, "title": null}},
       "text": {"field": "motif", "type": "nominal"}}}
  ],
  "resolve": {"scale": {"color": "independent"}, "legend": {"color": "independent"}, "axis": {"x": "independent", "y": "independent"}}
},
{
  "width": 672, "height": 481.7,
  "title": {"text": "Down-regulated salt responsive genes", "offset": 31.4},
  "data": {"name": "down_vcgcgb"},
  "layer": [
    {
      "encoding": {
        "x": {"field": "x", "type": "quantitative", "scale": {"domain": [18.5, 142.1], "nice": false, "zero": false},
          "axis": {"values": [20,40,60,80,100,120,140], "title": null, "labelPadding": 13}},
        "y": {"field": "y", "type": "quantitative", "scale": {"domain": [0, 71.85], "nice": false, "zero": false},
          "axis": {"values": [0,10,20,30,40,50,60,70], "title": ["No. of pseudoclusters having", "occurrence of VCGCGB"], "labelPadding": 14, "titlePadding": 48, "titleY": 285.7}}
      },
      "layer": [
        {"transform": [{"filter": "datum.kind === 'raw'"}], "mark": {"type": "line", "strokeWidth": 1.5, "clip": true},
         "encoding": {"color": {"field": "series", "type": "nominal", "scale": {"domain": ["Genome", "Salt responsive"], "range": ["#df7a2c", "#4aa0ee"]},
           "legend": {"legendX": 610, "legendY": 18.4, "labelExpr": "''"}}}},
        {"transform": [{"filter": "datum.kind === 'fit'"}], "mark": {"type": "line", "strokeWidth": 1.5, "interpolate": "monotone", "clip": true},
         "encoding": {"color": {"field": "series", "type": "nominal", "scale": {"domain": ["Genome", "Salt responsive"], "range": ["#f03c3c", "#5a6ee6"]},
           "legend": {"legendX": 526, "legendY": 18.4, "labelAlign": "right", "labelOffset": -58}}}}
      ],
      "resolve": {"scale": {"color": "independent"}, "legend": {"color": "independent"}}
    },
    {"transform": [{"filter": "datum.kind === 'label'"}], "mark": {"type": "text", "align": "left", "baseline": "alphabetic", "font": "Lato", "fontSize": 29, "fill": "black"},
     "encoding": {
       "x": {"datum": 22.2, "type": "quantitative", "axis": {"orient": "top", "values": [40,60,80,100,120], "labels": false, "title": null}},
       "y": {"datum": 65.5, "type": "quantitative", "axis": {"orient": "right", "values": [10,20,30,40,50,60,70], "labels": false, "title": null}},
       "text": {"field": "motif", "type": "nominal"}}}
  ],
  "resolve": {"scale": {"color": "independent"}, "legend": {"color": "independent"}, "axis": {"x": "independent", "y": "independent"}}
}
]
},
{
"spacing": 40,
"resolve": {"scale": {"color": "independent"}, "legend": {"color": "independent"}},
"hconcat": [
{
  "width": 672, "height": 511,
  "data": {"name": "up_mcgtgt"},
  "layer": [
    {
      "encoding": {
        "x": {"field": "x", "type": "quantitative", "scale": {"domain": [20, 160], "nice": false, "zero": false},
          "axis": {"values": [20,40,60,80,100,120,140,160], "title": "No. of occurrence in pseudo cluster", "labelPadding": 22, "titlePadding": 10, "titleX": 288}},
        "y": {"field": "y", "type": "quantitative", "scale": {"domain": [0, 60], "nice": false, "zero": false},
          "axis": {"values": [0,10,20,30,40,50,60], "title": ["No. of pseudoclusters having", "occurrence of MCGTGT"], "labelPadding": 16, "titlePadding": 45, "titleY": 292.7}}
      },
      "layer": [
        {"transform": [{"filter": "datum.kind === 'raw'"}], "mark": {"type": "line", "strokeWidth": 1.5, "clip": true},
         "encoding": {"color": {"field": "series", "type": "nominal", "scale": {"domain": ["Genome", "Salt responsive"], "range": ["#df7a2c", "#4aa0ee"]},
           "legend": {"legendX": 618.2, "legendY": 3.3, "labelExpr": "''"}}}},
        {"transform": [{"filter": "datum.kind === 'fit'"}], "mark": {"type": "line", "strokeWidth": 1.5, "interpolate": "monotone", "clip": true},
         "encoding": {"color": {"field": "series", "type": "nominal", "scale": {"domain": ["Genome", "Salt responsive"], "range": ["#f03c3c", "#5a6ee6"]},
           "legend": {"legendX": 533.7, "legendY": 3.3, "labelAlign": "right", "labelOffset": -58}}}}
      ],
      "resolve": {"scale": {"color": "independent"}, "legend": {"color": "independent"}}
    },
    {"transform": [{"filter": "datum.kind === 'label'"}], "mark": {"type": "text", "align": "left", "baseline": "alphabetic", "font": "Lato", "fontSize": 29, "fill": "black"},
     "encoding": {
       "x": {"datum": 22.8, "type": "quantitative", "axis": {"orient": "top", "values": [40,60,80,100,120,140], "labels": false, "title": null}},
       "y": {"datum": 56.0, "type": "quantitative", "axis": {"orient": "right", "values": [10,20,30,40,50], "labels": false, "title": null}},
       "text": {"field": "motif", "type": "nominal"}}}
  ],
  "resolve": {"scale": {"color": "independent"}, "legend": {"color": "independent"}, "axis": {"x": "independent", "y": "independent"}}
},
{
  "width": 669, "height": 511,
  "data": {"name": "down_mcgtgt"},
  "layer": [
    {
      "encoding": {
        "x": {"field": "x", "type": "quantitative", "scale": {"domain": [20, 160], "nice": false, "zero": false},
          "axis": {"values": [20,40,60,80,100,120,140,160], "title": "No. of occurrence in pseudo cluster", "labelPadding": 19, "titlePadding": 10}},
        "y": {"field": "y", "type": "quantitative", "scale": {"domain": [0, 60], "nice": false, "zero": false},
          "axis": {"values": [0,10,20,30,40,50,60], "title": ["No. of pseudoclusters having", "occurrence of MCGTGT"], "labelPadding": 20, "titlePadding": 45, "titleY": 292.5}}
      },
      "layer": [
        {"transform": [{"filter": "datum.kind === 'raw'"}], "mark": {"type": "line", "strokeWidth": 1.5, "clip": true},
         "encoding": {"color": {"field": "series", "type": "nominal", "scale": {"domain": ["Genome", "Salt responsive"], "range": ["#df7a2c", "#4aa0ee"]},
           "legend": {"legendX": 604, "legendY": 3.4, "labelExpr": "''"}}}},
        {"transform": [{"filter": "datum.kind === 'fit'"}], "mark": {"type": "line", "strokeWidth": 1.5, "interpolate": "monotone", "clip": true},
         "encoding": {"color": {"field": "series", "type": "nominal", "scale": {"domain": ["Genome", "Salt responsive"], "range": ["#f03c3c", "#5a6ee6"]},
           "legend": {"legendX": 519.4, "legendY": 3.4, "labelAlign": "right", "labelOffset": -58}}}}
      ],
      "resolve": {"scale": {"color": "independent"}, "legend": {"color": "independent"}}
    },
    {"transform": [{"filter": "datum.kind === 'label'"}], "mark": {"type": "text", "align": "left", "baseline": "alphabetic", "font": "Lato", "fontSize": 29, "fill": "black"},
     "encoding": {
       "x": {"datum": 22.5, "type": "quantitative", "axis": {"orient": "top", "values": [40,60,80,100,120,140], "labels": false, "title": null}},
       "y": {"datum": 56.2, "type": "quantitative", "axis": {"orient": "right", "values": [10,20,30,40,50], "labels": false, "title": null}},
       "text": {"field": "motif", "type": "nominal"}}}
  ],
  "resolve": {"scale": {"color": "independent"}, "legend": {"color": "independent"}, "axis": {"x": "independent", "y": "independent"}}
}
]
}
]
}
